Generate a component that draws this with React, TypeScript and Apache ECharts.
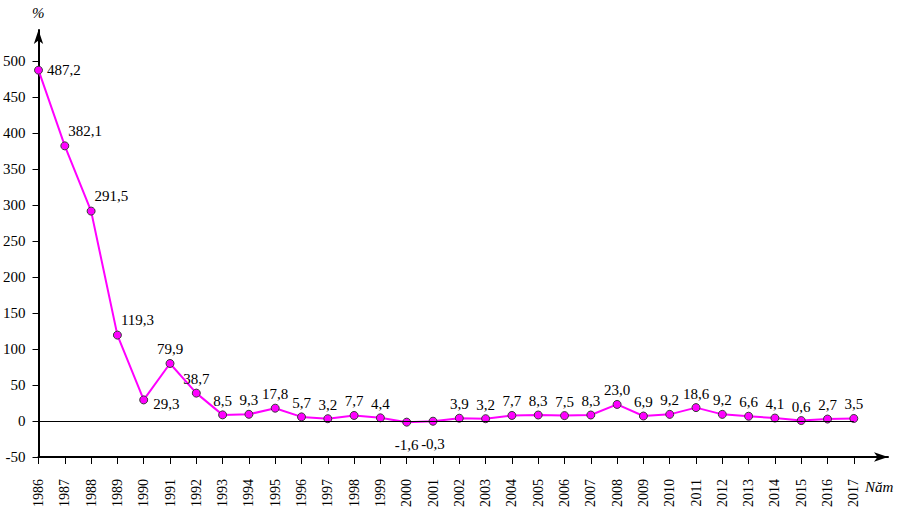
import React, { useEffect, useRef } from "react";
import * as echarts from "echarts";

const years: number[] = [
  1986, 1987, 1988, 1989, 1990, 1991, 1992, 1993, 1994, 1995, 1996, 1997, 1998, 1999, 2000, 2001,
  2002, 2003, 2004, 2005, 2006, 2007, 2008, 2009, 2010, 2011, 2012, 2013, 2014, 2015, 2016, 2017,
];
const inflation: number[] = [
  487.2, 382.1, 291.5, 119.3, 29.3, 79.9, 38.7, 8.5, 9.3, 17.8, 5.7, 3.2, 7.7, 4.4, -1.6, -0.3,
  3.9, 3.2, 7.7, 8.3, 7.5, 8.3, 23.0, 6.9, 9.2, 18.6, 9.2, 6.6, 4.1, 0.6, 2.7, 3.5,
];
const yTicks: number[] = [-50, 0, 50, 100, 150, 200, 250, 300, 350, 400, 450, 500];

const FONT = "'Liberation Serif', 'Times New Roman', serif";

function labelFor(year: number): any {
  switch (year) {
    case 1986:
      return { position: "right", distance: 4 };
    case 1987:
    case 1988:
    case 1989:
      return { position: "right", offset: [-5, -15], distance: 4 };
    case 1990:
      return { position: "right", offset: [0, 4], distance: 5 };
    case 2000:
    case 2001:
      return { position: "bottom", distance: 11 };
    default:
      return { position: "top", distance: 2 };
  }
}

export default function App() {
  const ref = useRef<HTMLDivElement>(null);
  useEffect(() => {
    if (!ref.current) return;
    const chart = echarts.init(ref.current, null, { renderer: "svg" });
    const data = years.map((y, i) => ({
      value: [y, inflation[i]],
      label: labelFor(y),
    }));
    chart.setOption({
      animation: false,
      backgroundColor: "#ffffff",
      textStyle: { fontFamily: FONT },
      grid: { left: 38, right: 10, top: 30, bottom: 58, containLabel: false },
      xAxis: {
        type: "value",
        min: 1986,
        max: 2018.3,
        axisLine: {
          show: true,
          onZero: false,
          lineStyle: { color: "#000", width: 2 },
          symbol: ["none", "arrow"],
          symbolSize: [7, 14],
        },
        axisTick: {
          show: true,
          length: 7,
          customValues: years,
          lineStyle: { color: "#000", width: 1 },
        },
        axisLabel: {
          customValues: years,
          rotate: 90,
          margin: 22,
          color: "#000",
          fontSize: 14,
          fontFamily: FONT,
          formatter: (v: number) => String(v),
        },
        splitLine: { show: false },
      },
      yAxis: {
        type: "value",
        min: -50,
        max: 543,
        axisLine: {
          show: true,
          onZero: false,
          lineStyle: { color: "#000", width: 2 },
          symbol: ["none", "arrow"],
          symbolSize: [7, 14],
        },
        axisTick: {
          show: true,
          length: 6,
          customValues: yTicks,
          lineStyle: { color: "#000", width: 1 },
        },
        axisLabel: {
          customValues: yTicks,
          margin: 13,
          color: "#000",
          fontSize: 15,
          fontFamily: FONT,
          formatter: (v: number) => String(v),
        },
        splitLine: { show: false },
      },
      series: [
        {
          type: "line",
          data,
          symbol: "circle",
          symbolSize: 8,
          lineStyle: { color: "#ff00ff", width: 2 },
          itemStyle: { color: "#ff00ff", borderColor: "#3a3a3a", borderWidth: 1 },
          label: {
            show: true,
            color: "#000",
            fontSize: 15,
            fontFamily: FONT,
            formatter: (p: any) => p.value[1].toFixed(1).replace(".", ","),
          },
          markLine: {
            silent: true,
            symbol: "none",
            label: { show: false },
            lineStyle: { color: "#000", width: 1, type: "solid" },
            data: [[{ coord: [years[0], 0] }, { coord: [years[years.length - 1], 0] }]],
          },
          z: 3,
        },
      ],
      graphic: [
        {
          type: "text",
          left: 32,
          top: 5,
          style: { text: "%", font: `italic 15px ${FONT}`, fill: "#000" },
        },
        {
          type: "text",
          left: 865,
          top: 479,
          style: { text: "Năm", font: `italic 15px ${FONT}`, fill: "#000" },
        },
      ],
    });
    return () => chart.dispose();
  }, []);
  return (
    <div
      ref={ref}
      style={{ position: "fixed", left: 0, top: 0, width: 898, height: 515 }}
    />
  );
}
